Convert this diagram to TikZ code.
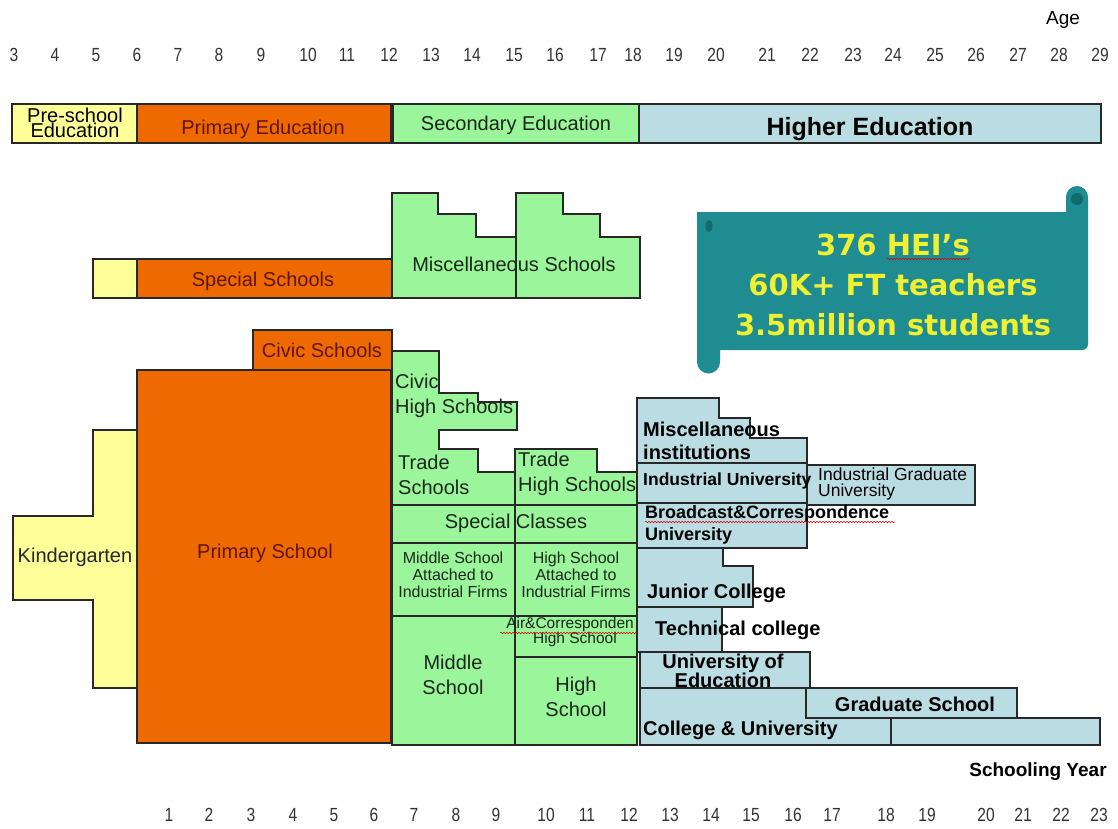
\documentclass[tikz,border=0pt]{standalone}
\usepackage{fontspec}
\setmainfont{Liberation Sans}
\newfontfamily\bannerfont{DejaVu Sans}
\usetikzlibrary{decorations.pathmorphing}
\definecolor{edge}{RGB}{40,40,40}
\definecolor{pre}{RGB}{255,255,153}
\definecolor{pri}{RGB}{238,106,0}
\definecolor{sec}{RGB}{155,245,155}
\definecolor{hig}{RGB}{186,221,228}
\definecolor{teal1}{RGB}{30,140,145}
\definecolor{teal2}{RGB}{18,105,110}
\definecolor{ytext}{RGB}{240,240,50}
\definecolor{otext}{RGB}{95,20,0}
\definecolor{gtext}{RGB}{25,40,25}
\newcommand\nrw[1]{\scalebox{0.82}[1]{#1}}
\tikzset{
  bx/.style={draw=edge, line width=1.1pt},
  num/.style={font=\fontsize{19}{19}\selectfont, inner sep=0, text=black!80},
  lab/.style={font=\fontsize{20}{25}\selectfont, inner sep=0, align=center, text=gtext},
  olab/.style={font=\fontsize{20}{25}\selectfont, inner sep=0, align=center, text=otext},
  slab/.style={font=\fontsize{16}{17}\selectfont, inner sep=0, align=center, text=gtext},
  blab/.style={font=\bfseries\fontsize{20}{23}\selectfont, inner sep=0, align=left, text=black},
  squig/.style={red!85!black, line width=0.5pt, decorate, decoration={snake, amplitude=0.8pt, segment length=3pt}}
}
\begin{document}
\begin{tikzpicture}[x=1pt,y=-1pt]
\useasboundingbox[fill=white] (0,0) rectangle (1118,829);

% ---------- age axis ----------
\node[font=\fontsize{19}{19}\selectfont, inner sep=0] (agelab) at (1063,20) {Age};
\foreach \a/\x in {3/14,4/55,5/96,6/137,7/178,8/219,9/261,10/308,11/347,12/389,13/431,14/472,15/514,16/555,17/598,18/633,19/674,20/716,21/767,22/810,23/853,24/893,25/935,26/976,27/1018,28/1059,29/1100}
  \node[num] (age\a) at (\x,55) {\nrw{\a}};

% ---------- schooling year axis ----------
\node[font=\bfseries\fontsize{19}{19}\selectfont, inner sep=0] (sylab) at (1038,772) {Schooling Year};
\foreach \a/\x in {1/169,2/209,3/251,4/293,5/334,6/374,7/414,8/456,9/496,10/546,11/587,12/629,13/670,14/711,15/751,16/793,17/832,18/886,19/927,20/986,21/1023,22/1061,23/1099}
  \node[num] (yr\a) at (\x,815) {\nrw{\a}};

% ---------- top bar ----------
\draw[bx, fill=pre] (12,104) rectangle (137,143);
\draw[bx, fill=pri] (137,104) rectangle (391,143);
\draw[bx, fill=sec] (393,104) rectangle (639,143);
\draw[bx, fill=hig] (639,104) rectangle (1101,143);
\node[lab, text=black, font=\fontsize{20}{13.5}\selectfont] (tpre) at (75,123) {Pre-school\\Education};
\node[olab] (tpri) at (263,129) {Primary Education};
\node[lab] (tsec) at (516,125) {Secondary Education};
\node[blab, font=\bfseries\fontsize{25}{25}\selectfont] (thig) at (870,129) {Higher Education};

% ---------- special schools row ----------
\draw[bx, fill=pre] (93,259) rectangle (137,298);
\draw[bx, fill=pri] (137,259) rectangle (392,298);
\node[olab] (tspec) at (263,281) {Special Schools};

% miscellaneous schools
\draw[bx, fill=sec] (392,193) -- (438,193) -- (438,214) -- (476,214) -- (476,237) -- (516,237) -- (516,298) -- (392,298) -- cycle;
\draw[bx, fill=sec] (516,193) -- (563,193) -- (563,214) -- (600,214) -- (600,237) -- (640,237) -- (640,298) -- (516,298) -- cycle;
\node[lab] (tmisc) at (514,264) {Miscellaneous Schools};

% ---------- primary column ----------
\draw[bx, fill=pri] (253,330) rectangle (392,370);
\node[olab] (tcivic) at (322,350) {Civic Schools};
\draw[bx, fill=pre] (93,430) -- (137,430) -- (137,688) -- (93,688) -- (93,600) -- (13,600) -- (13,516) -- (93,516) -- cycle;
\node[lab, text=black!85] (tkind) at (75,557) {Kindergarten};
\draw[bx, fill=pri] (137,370) rectangle (391,743);
\node[olab] (tprim) at (265,553) {Primary School};

% ---------- secondary column ----------
\draw[bx, fill=sec] (392,351) -- (439,351) -- (439,393) -- (478,393) -- (478,402) -- (517,402) -- (517,430) -- (439,430) -- (439,449) -- (478,449) -- (478,472) -- (515,472) -- (515,505) -- (392,505) -- cycle;
\draw[bx, fill=sec] (515,449) -- (597,449) -- (597,472) -- (637,472) -- (637,505) -- (515,505) -- cycle;
\draw[bx, fill=sec] (392,505) rectangle (515,543);
\draw[bx, fill=sec] (515,505) rectangle (637,543);
\draw[bx, fill=sec] (392,543) rectangle (515,616);
\draw[bx, fill=sec] (515,543) rectangle (637,616);
\draw[bx, fill=sec] (515,616) rectangle (637,657);
\draw[bx, fill=sec] (392,616) rectangle (515,745);
\draw[bx, fill=sec] (515,657) rectangle (637,745);

\node[lab, align=left, anchor=west] (tcivh) at (395,396) {Civic\\High Schools};
\node[lab, align=left, anchor=west] (ttrade) at (398,475) {Trade\\Schools};
\node[lab, align=left, anchor=west] (ttrh) at (518,474) {Trade\\High Schools};
\node[lab] (tspcl) at (516,523) {Special Classes};
\node[slab] (tmsa) at (453,575) {Middle School\\Attached to\\Industrial Firms};
\node[slab] (thsa) at (576,575) {High School\\Attached to\\Industrial Firms};
\node[slab, font=\fontsize{15.5}{14}\selectfont] (tair) at (570,632) {Air\&Corresponden\\\hspace*{10pt}High School};
\node[lab] (tms) at (453,675) {Middle\\School};
\node[lab] (ths) at (576,697) {High\\School};

% ---------- higher education ----------
\draw[bx, fill=hig] (637,398) -- (719,398) -- (719,418) -- (750,418) -- (750,438) -- (807,438) -- (807,463) -- (637,463) -- cycle;
\draw[bx, fill=hig] (637,463) rectangle (807,503);
\draw[bx, fill=hig] (807,465) rectangle (975,505);
\draw[bx, fill=hig] (637,503) rectangle (807,548);
\draw[bx, fill=hig] (637,548) -- (723,548) -- (723,566) -- (753,566) -- (753,607) -- (637,607) -- cycle;
\draw[bx, fill=hig] (637,607) rectangle (722,652);
\draw[bx, fill=hig] (640,652) rectangle (810,688);
\draw[bx, fill=hig] (891,718) rectangle (1100,745);
\draw[bx, fill=hig] (640,688) -- (806,688) -- (806,718) -- (891,718) -- (891,745) -- (640,745) -- cycle;
\draw[bx, fill=hig] (806,688) rectangle (1017,718);

\node[blab, anchor=west] (tmi) at (643,441) {Miscellaneous\\institutions};
\node[blab, anchor=west, font=\bfseries\fontsize{17.5}{18}\selectfont] (tiu) at (643,481) {Industrial University};
\node[lab, align=left, anchor=west, text=black, font=\fontsize{17.5}{16}\selectfont] (tigu) at (818,484) {Industrial Graduate\\University};
\node[blab, anchor=west, font=\bfseries\fontsize{18}{22}\selectfont] (tbc) at (645,525) {Broadcast\&Correspondence\\University};
\node[blab, anchor=west] (tjc) at (647,593) {Junior College};
\node[blab, anchor=west] (ttc) at (655,630) {Technical college};
\node[blab, align=center, font=\bfseries\fontsize{20}{19}\selectfont] (tue) at (723,671) {University of\\Education};
\node[blab] (tgs) at (915,704) {Graduate School};
\node[blab, anchor=west] (tcu) at (643,730) {College \& University};

\draw[squig] (645,522) -- (895,522);
\draw[squig] (500,633) -- (637,633);

% ---------- banner ----------
\fill[teal1] (697,212) -- (1066,212) -- (1066,197) arc[start angle=180, end angle=360, radius=11] -- (1088,344) arc[start angle=0, end angle=90, radius=6] -- (720,350) -- (720,362) arc[start angle=0, end angle=180, radius=11.5] -- cycle;
\fill[teal2] (1077,199) circle[radius=6];
\fill[teal2] (709,226) ellipse[x radius=3.5, y radius=6];
\node[font=\bannerfont\bfseries\fontsize{29}{40}\selectfont, text=ytext, align=center, inner sep=0] (tban) at (893,285) {376 HEI’s\\60K+ FT teachers\\3.5million students};
\draw[squig] (887,259) -- (970,259);
\end{tikzpicture}
\end{document}
